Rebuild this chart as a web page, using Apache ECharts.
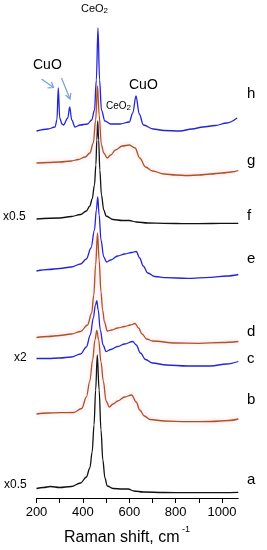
<!DOCTYPE html>
<html>
<head>
<meta charset="utf-8">
<script src="https://cdn.jsdelivr.net/npm/echarts@6/dist/echarts.min.js"></script>
<style>html,body{margin:0;padding:0;background:#fff}#c{width:267px;height:550px}</style>
</head>
<body>
<div id="c"></div>
<script>
// Raman shift (cm-1) and stacked intensity (arbitrary, offset) for each spectrum
const hX = [200,250,280,288,294,300,310,316,335,343,352,366,388,420,438,450,458,465,472,480,495,520,560,600,615,629,643,661,703,750,819,870,918,970,1020,1065];
const hY = [367,369,371,378,410,380,374,373,380,391,378,371,373,374,378,388,418,470,418,388,377,374,374,376,385,402,384,373,369,367.5,367,369,371,372.5,375,380];
const gX = [200,250,300,350,380,410,430,445,455,463,470,480,490,505,520,540,570,600,625,645,670,700,750,800,850,900,950,1000,1040,1070];
const gY = [335,335.5,336,337,338.5,341,345,355,378,412,383,353,345,340,343,348,352,353,350,340,331,327,324,323,322.5,323,324,325,326,327.5];
const fX = [200,300,350,390,415,430,440,450,456,460,464,468,473,480,490,500,530,570,600,630,680,750,850,950,1070];
const fY = [279,280,281.5,283.5,287,292,299,313,333,358,377,358,328,303,288,282,278.5,277.5,277.5,276,275,274.7,274.3,274.5,274.7];
const eX = [200,250,300,350,390,415,435,450,458,464,470,478,490,502,520,550,580,610,630,645,660,680,710,760,850,950,1020,1070];
const eY = [227,228.5,229.5,231,234,239,250,268,288,301,283,258,241,236,238,242,244,245.5,246.5,240,232,225,221.5,220.3,219.7,220.7,222,223.5];
const dX = [200,250,300,350,390,420,438,447,455,463,470,478,485,493,505,525,550,580,605,625,640,655,675,700,800,900,1000,1070];
const dY = [160.5,161.5,162.5,164,166.5,173,185,203,233,265,238,206,188,176,167,168,170,171.5,173,174.5,170,164,159,157,155,154.7,155.5,156.5];
const cX = [200,250,300,350,390,415,432,445,454,460,466,475,487,500,520,550,580,615,630,648,670,700,760,850,950,1020,1070];
const cY = [139.5,139.5,140,141,144,151,163,180,193,197.3,188,168,153,146.5,148.5,151.5,154,156.5,153,145,138.5,135,133,132,132,134,136.5];
const bX = [200,250,300,360,395,415,430,442,452,460,468,478,488,500,514,530,550,580,610,630,645,665,690,750,850,950,1030,1070];
const bY = [84,85,85.3,85.5,89.5,101,117,138,158,167.5,158,136,117,97,91,94,97,101,103,96,88,82,78.5,77,76.3,76.5,77.5,79];
const aX = [200,230,260,300,350,390,415,430,440,448,455,462,470,478,486,495,505,530,570,595,620,660,750,850,950,1070];
const aY = [9.5,10.5,11.5,10.5,11.5,15,21,30,46,73,108,143,108,68,38,20,12,9.5,9,9,7,6,5.5,5.3,5.3,5.7];

const traceLabels = ['h','g','f','e','d','c','b','a'];
const tickValues = [200,300,400,500,600,700,800,900,1000];
const tickLabels = [200,400,600,800,1000];

const BLUE = '#2424d8', BROWN = '#a8561e', BLACK = '#111111';
const zip = (xs, ys) => xs.map((x, i) => [x, ys[i]]);

function line(name, xs, ys, color, glow) {
  return {
    name, type: 'line', data: zip(xs, ys), showSymbol: false, symbol: 'none',
    smooth: 0.35, smoothMonotone: 'x', silent: true, animation: false,
    lineStyle: Object.assign({ color, width: 1.3 },
      glow ? { shadowColor: 'rgba(255,120,190,0.45)', shadowBlur: 4 } : {})
  };
}

const chart = echarts.init(document.getElementById('c'), null, { renderer: 'canvas' });
const FONT = 'Liberation Sans, Arial, sans-serif';
const rightLabelY = [94, 161, 216, 259, 332, 359, 400, 480];

chart.setOption({
  backgroundColor: '#ffffff',
  animation: false,
  grid: { left: 36.5, right: 28.7, top: 0, bottom: 52, containLabel: false },
  xAxis: {
    type: 'value', min: 200, max: 1070,
    axisLine: { show: true, lineStyle: { color: '#000', width: 1 } },
    axisTick: { show: true, length: 5, inside: false, customValues: tickValues, lineStyle: { color: '#000', width: 1 } },
    axisLabel: { customValues: tickLabels, formatter: v => String(v), color: '#000', fontSize: 13, fontFamily: FONT, margin: 8 },
    splitLine: { show: false },
    name: ''
  },
  yAxis: { type: 'value', min: 0, max: 498, show: false },
  series: [
    line('a', aX, aY, BLACK, false),
    line('b', bX, bY, BROWN, true),
    line('c', cX, cY, BLUE, false),
    line('d', dX, dY, BROWN, true),
    line('e', eX, eY, BLUE, false),
    line('f', fX, fY, BLACK, false),
    line('g', gX, gY, BROWN, true),
    line('h', hX, hY, BLUE, false)
  ],
  graphic: [].concat(
    traceLabels.map((t, i) => ({
      type: 'text', left: 247, top: rightLabelY[i] - 8,
      style: { text: t, font: '15px ' + FONT, fill: '#000' }
    })),
    [
      { type: 'text', left: 3, top: 211, style: { text: 'x0.5', font: '12px ' + FONT, fill: '#000' } },
      { type: 'text', left: 14, top: 352, style: { text: 'x2', font: '12px ' + FONT, fill: '#000' } },
      { type: 'text', left: 4, top: 479, style: { text: 'x0.5', font: '12px ' + FONT, fill: '#000' } },
      { type: 'text', left: 81, top: 3, style: { text: 'CeO{s|2}', font: '11px ' + FONT, fill: '#000',
          rich: { s: { fontSize: 8, fontFamily: FONT, verticalAlign: 'bottom', padding: [5, 0, 0, 0] } } } },
      { type: 'text', left: 33, top: 58, style: { text: 'CuO', font: '14px ' + FONT, fill: '#000' } },
      { type: 'text', left: 129, top: 78, style: { text: 'CuO', font: '14px ' + FONT, fill: '#000' } },
      { type: 'text', left: 106, top: 101, style: { text: 'CeO{s|2}', font: '10px ' + FONT, fill: '#000',
          rich: { s: { fontSize: 8, fontFamily: FONT, padding: [4, 0, 0, 0] } } } },
      // arrows
      { type: 'polyline', shape: { points: [[41.5, 79], [53.5, 87.5]] }, style: { stroke: '#7a9fd6', lineWidth: 1.2, fill: null } },
      { type: 'polyline', shape: { points: [[47.5, 87.8], [53.5, 87.5], [51.5, 82]] }, style: { stroke: '#7a9fd6', lineWidth: 1.2, fill: null } },
      { type: 'polyline', shape: { points: [[61.5, 78], [70, 99]] }, style: { stroke: '#7a9fd6', lineWidth: 1.2, fill: null } },
      { type: 'polyline', shape: { points: [[65.5, 95], [70, 99], [70.8, 93]] }, style: { stroke: '#7a9fd6', lineWidth: 1.2, fill: null } },
      // axis title
      { type: 'text', left: 64, top: 530, style: { text: 'Raman shift, cm', font: '16px ' + FONT, fill: '#000' } },
      { type: 'text', left: 182, top: 525, style: { text: '-1', font: '9px ' + FONT, fill: '#000' } }
    ]
  )
});
</script>
</body>
</html>
